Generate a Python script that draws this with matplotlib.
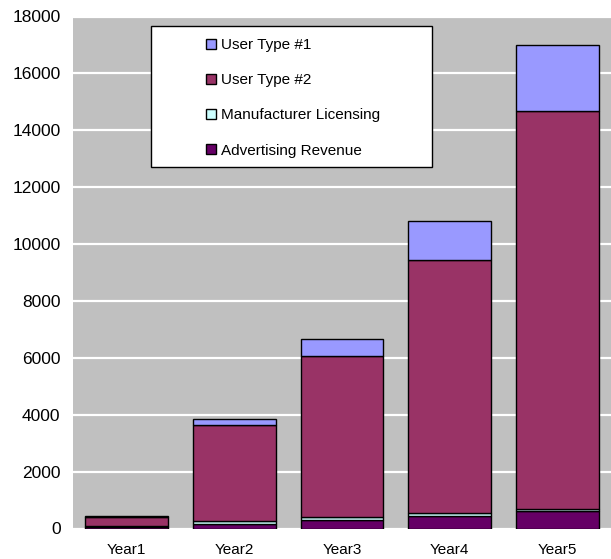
import matplotlib
matplotlib.use("Agg")
import matplotlib.pyplot as plt
from matplotlib.patches import Rectangle, Patch
import numpy as np

plt.rcParams['font.family'] = ['Liberation Sans', 'DejaVu Sans']

categories = ["Year1", "Year2", "Year3", "Year4", "Year5"]
advertising = [40, 150, 300, 450, 600]
manufacturer = [60, 100, 110, 90, 100]
user_type2 = [310, 3380, 5640, 8910, 13990]
user_type1 = [40, 220, 600, 1360, 2300]

series = [
    ("Advertising Revenue", advertising, "#660066"),
    ("Manufacturer Licensing", manufacturer, "#CCFFFF"),
    ("User Type #2", user_type2, "#993366"),
    ("User Type #1", user_type1, "#9999FF"),
]

fig = plt.figure(figsize=(6.11, 5.59), dpi=100)
ax = fig.add_axes([73/611, 1 - 528.5/559, 1 - 73/611, (528.5 - 16.5)/559])
ax.set_facecolor("#C0C0C0")

x = np.arange(len(categories))
bottom = np.zeros(len(categories))
handles = {}
for name, vals, col in series:
    vals = np.array(vals, dtype=float)
    ax.bar(x, vals, width=0.77, bottom=bottom, color=col, edgecolor="black",
           linewidth=1.0, zorder=3)
    bottom += vals
    handles[name] = Patch(facecolor=col, edgecolor="black", linewidth=1.0)

ax.set_xlim(-0.5, len(categories) - 0.5)
ax.set_ylim(0, 18000)
ax.set_yticks(np.arange(0, 18001, 2000))
ax.set_xticks(x)
ax.set_xticklabels(categories)
ax.yaxis.grid(True, color="white", linewidth=1.6, zorder=0)
ax.set_axisbelow(True)
for s in ax.spines.values():
    s.set_visible(False)
ax.tick_params(axis="y", length=0, pad=9, labelsize=12.5)
ax.tick_params(axis="x", length=0, pad=10.5, labelsize=11)

rect = Rectangle((0.145, 0.706), 0.522, 0.276, transform=ax.transAxes,
                 facecolor="white", edgecolor="black", linewidth=1.0, zorder=5)
ax.add_patch(rect)

order = ["User Type #1", "User Type #2", "Manufacturer Licensing", "Advertising Revenue"]
leg = ax.legend([handles[n] for n in order], order, loc="upper left",
                bbox_to_anchor=(0.2468, 0.958), bbox_transform=ax.transAxes,
                frameon=False, fontsize=11, borderpad=0, borderaxespad=0,
                handlelength=0.7, handleheight=0.65, handletextpad=0.28,
                labelspacing=1.39)
leg.set_zorder(6)

fig.savefig("out.png", dpi=100)
